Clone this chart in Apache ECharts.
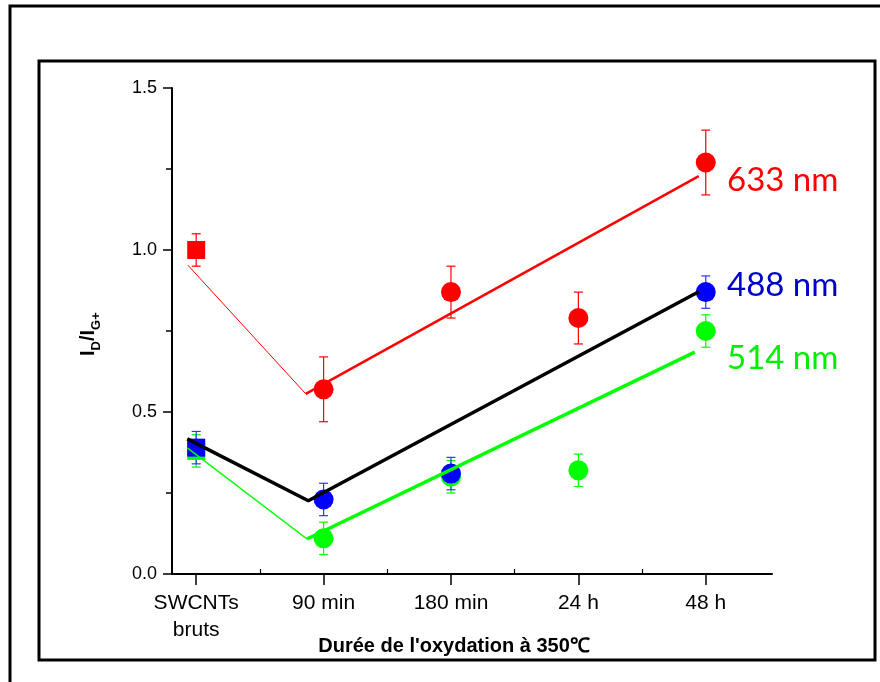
<!DOCTYPE html>
<html>
<head>
<meta charset="utf-8">
<script src="https://cdn.jsdelivr.net/npm/echarts@6/dist/echarts.min.js"></script>
<style>
html,body{margin:0;padding:0;background:#fff;}
#c{width:880px;height:682px;}
</style>
</head>
<body>
<div id="c"></div>
<script>
// ---- data ----
const categories = ['SWCNTs\nbruts', '90 min', '180 min', '24 h', '48 h'];
const yTicks = [0, 0.5, 1.0, 1.5];

const val633 = [1.00, 0.57, 0.87, 0.79, 1.27];
const err633 = [0.05, 0.10, 0.08, 0.08, 0.10];
const val488 = [0.39, 0.23, 0.31, null, 0.87];
const err488 = [0.05, 0.05, 0.05, null, 0.05];
const val514 = [0.38, 0.11, 0.30, 0.32, 0.75];
const err514 = [0.05, 0.05, 0.05, 0.05, 0.05];

// fit lines (x in category index units, y in I_D/I_G+)
const fit633ThinX = [-0.065, 0.86];
const fit633ThinY = [0.953, 0.556];
const fit633X = [0.86, 3.945];
const fit633Y = [0.556, 1.228];
const fit488X = [-0.07, 0.88, 3.945];
const fit488Y = [0.417, 0.226, 0.871];
const fit514ThinX = [-0.07, 0.87];
const fit514ThinY = [0.389, 0.108];
const fit514X = [0.87, 3.914];
const fit514Y = [0.108, 0.685];

const seriesLabels = ['633 nm', '488 nm', '514 nm'];
const xTitle = "Durée de l'oxydation à 350℃";

// ---- helpers ----
const zip = (xs, ys) => xs.map((x, i) => [x, ys[i]]);
const pts = (vals) => vals.map((v, i) => v == null ? null : {
  value: [i, v],
  symbol: i === 0 ? 'rect' : 'circle',
  symbolSize: i === 0 ? 18 : 20
}).filter(Boolean);
const errs = (vals, es) => vals.map((v, i) => v == null ? null : [i, v, es[i]]).filter(Boolean);

function errRender(color) {
  return function (params, api) {
    const x = api.value(0), v = api.value(1), e = api.value(2);
    const t = api.coord([x, v + e]);
    const b = api.coord([x, v - e]);
    const hw = 4.5;
    const st = { stroke: color, lineWidth: 1.2 };
    return {
      type: 'group',
      children: [
        { type: 'line', shape: { x1: t[0], y1: t[1], x2: b[0], y2: b[1] }, style: st },
        { type: 'line', shape: { x1: t[0] - hw, y1: t[1], x2: t[0] + hw, y2: t[1] }, style: st },
        { type: 'line', shape: { x1: b[0] - hw, y1: b[1], x2: b[0] + hw, y2: b[1] }, style: st }
      ]
    };
  };
}

const RED = '#ff0000', BLUE = '#0000ff', GREEN = '#00ff00';
const FONT = "'Liberation Sans', Arial, sans-serif";

const chart = echarts.init(document.getElementById('c'));
chart.setOption({
  animation: false,
  backgroundColor: '#fff',
  grid: { left: 172, right: 108, top: 88, bottom: 108, containLabel: false },
  xAxis: [{
    type: 'value', min: -0.19, max: 4.52, position: 'bottom',
    axisLine: { show: true, onZero: false, lineStyle: { color: '#000', width: 2 } },
    splitLine: { show: false },
    axisTick: { show: true, customValues: [0, 1, 2, 3, 4], length: 11, lineStyle: { color: '#000', width: 1.5 } },
    axisLabel: {
      customValues: [0, 1, 2, 3, 4],
      formatter: v => categories[Math.round(v)],
      fontSize: 21, lineHeight: 27, margin: 16, color: '#000', fontFamily: FONT
    }
  }, {
    type: 'value', min: -0.19, max: 4.52, position: 'bottom', offset: 0,
    axisLine: { show: false },
    splitLine: { show: false },
    axisTick: { show: true, inside: true, customValues: [0.5, 1.5, 2.5, 3.5], length: 5, lineStyle: { color: '#000', width: 1.2 } },
    axisLabel: { show: false }
  }],
  yAxis: {
    type: 'value', min: 0, max: 1.5, interval: 0.5,
    axisLine: { show: true, onZero: false, lineStyle: { color: '#000', width: 2 } },
    splitLine: { show: false },
    axisTick: { show: true, length: 9, lineStyle: { color: '#000', width: 1.5 } },
    minorTick: { show: true, splitNumber: 2, length: 6, lineStyle: { color: '#000', width: 1.5 } },
    minorSplitLine: { show: false },
    axisLabel: { formatter: v => v.toFixed(1), fontSize: 18, margin: 15, color: '#000', fontFamily: FONT }
  },
  series: [
    { type: 'custom', name: 'e514', renderItem: errRender(GREEN), data: errs(val514, err514), z: 2, silent: true },
    { type: 'custom', name: 'e488', renderItem: errRender('#3333ff'), data: errs(val488, err488), z: 2, silent: true },
    { type: 'custom', name: 'e633', renderItem: errRender(RED), data: errs(val633, err633), z: 2, silent: true },
    { type: 'scatter', name: '514', data: pts(val514), itemStyle: { color: GREEN, opacity: 1 }, z: 3, silent: true },
    { type: 'scatter', name: '488', data: pts(val488), itemStyle: { color: BLUE, opacity: 1 }, z: 3, silent: true },
    { type: 'scatter', name: '633', data: pts(val633), itemStyle: { color: RED, opacity: 1 }, z: 3, silent: true },
    { type: 'line', data: zip(fit633ThinX, fit633ThinY), symbol: 'none', lineStyle: { color: RED, width: 1 }, z: 4, silent: true },
    { type: 'line', data: zip(fit633X, fit633Y), symbol: 'none', lineStyle: { color: RED, width: 2.5 }, z: 4, silent: true },
    { type: 'line', data: zip(fit488X, fit488Y), symbol: 'none', lineStyle: { color: '#000', width: 3.5 }, z: 4, silent: true },
    { type: 'line', data: zip(fit514ThinX, fit514ThinY), symbol: 'none', lineStyle: { color: GREEN, width: 1.5 }, z: 4, silent: true },
    { type: 'line', data: zip(fit514X, fit514Y), symbol: 'none', lineStyle: { color: GREEN, width: 3.5 }, z: 4, silent: true }
  ],
  graphic: [
    { type: 'rect', shape: { x: 10, y: 6, width: 900, height: 720 }, style: { fill: null, stroke: '#000', lineWidth: 3 }, silent: true },
    { type: 'rect', shape: { x: 39, y: 61, width: 836, height: 599 }, style: { fill: null, stroke: '#000', lineWidth: 3 }, silent: true },
    {
      type: 'text', x: 454, y: 646,
      style: { text: xTitle, fontSize: 20, fontWeight: 'bold', fontFamily: FONT, fill: '#000', align: 'center', verticalAlign: 'middle' }
    },
    {
      type: 'group', x: 88, y: 356, rotation: Math.PI / 2,
      children: [
        { type: 'text', x: 0, y: 0, style: { text: 'I', fontSize: 20, fontWeight: 'bold', fontFamily: FONT, fill: '#000', align: 'left', verticalAlign: 'middle' } },
        { type: 'text', x: 5.6, y: 8, style: { text: 'D', fontSize: 13, fontWeight: 'bold', fontFamily: FONT, fill: '#000', align: 'left', verticalAlign: 'middle' } },
        { type: 'text', x: 15, y: 0, style: { text: '/I', fontSize: 20, fontWeight: 'bold', fontFamily: FONT, fill: '#000', align: 'left', verticalAlign: 'middle' } },
        { type: 'text', x: 26.1, y: 8, style: { text: 'G+', fontSize: 13, fontWeight: 'bold', fontFamily: FONT, fill: '#000', align: 'left', verticalAlign: 'middle' } }
      ]
    },
    { type: 'text', x: 727, y: 180, style: { text: seriesLabels[0], fontSize: 33, fontFamily: 'Lato, sans-serif', fill: '#ff0000', align: 'left', verticalAlign: 'middle' } },
    { type: 'text', x: 727, y: 285, style: { text: seriesLabels[1], fontSize: 33, fontFamily: 'Lato, sans-serif', fill: '#0000cc', align: 'left', verticalAlign: 'middle' } },
    { type: 'text', x: 727, y: 358, style: { text: seriesLabels[2], fontSize: 33, fontFamily: 'Lato, sans-serif', fill: '#00ee00', align: 'left', verticalAlign: 'middle' } }
  ]
});
</script>
</body>
</html>
